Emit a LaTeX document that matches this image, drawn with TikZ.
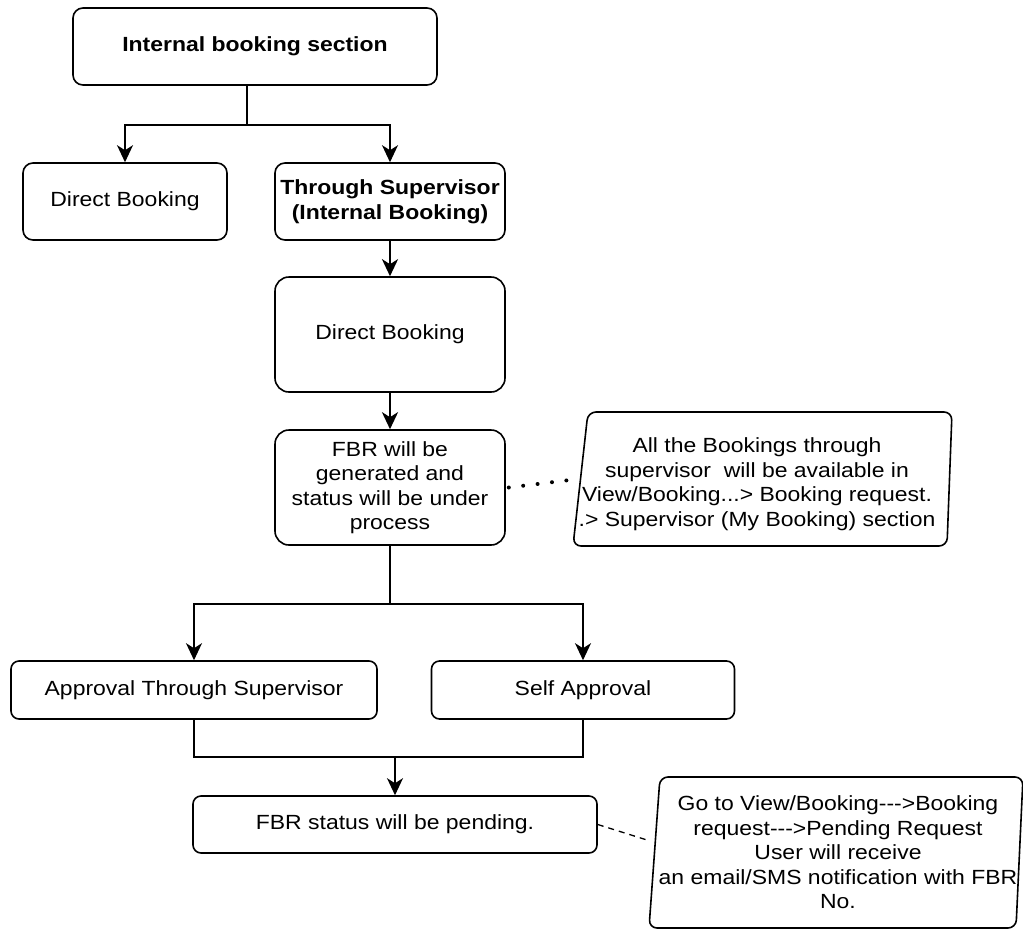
\documentclass[tikz,border=0pt]{standalone}
\usepackage{fontspec}
\setmainfont{Liberation Sans}[FakeStretch=1.12,Ligatures=TeXOff]
\usetikzlibrary{arrows.meta}

\begin{document}
\begin{tikzpicture}[x=1pt,y=-1pt,
  txt/.style={font=\fontsize{20.5}{24.5}\selectfont,align=center,inner sep=0pt},
  box/.style={txt,draw,line width=1.6pt,rounded corners=10pt,fill=white},
  notebox/.style={draw,line width=1.6pt,rounded corners=8pt,fill=white},
  link/.style={line width=1.3pt},
  arr/.style={link,-{Stealth[length=17pt,width=16pt,inset=5pt]}},
  thickarr/.style={line width=2.7pt,-{Stealth[length=17pt,width=16pt,inset=5pt]}},
  dotlink/.style={line width=4pt,line cap=round,dash pattern=on 0pt off 14.5pt},
  dashlink/.style={line width=1.3pt,dash pattern=on 6pt off 5pt}
]
\useasboundingbox (0,0) rectangle (1023,930);
\fill[white] (0,0) rectangle (1023,930);

% main flow boxes
\node[box,minimum width=364pt,minimum height=77pt] (top) at (255,46.5) {\textbf{Internal booking section}};
\node[box,minimum width=204pt,minimum height=77pt] (db1) at (125,201.5) {Direct Booking};
\node[box,minimum width=230pt,minimum height=77pt] (ts) at (390,201.5) {\textbf{Through Supervisor}\\\textbf{(Internal Booking)}};
\node[box,minimum width=230pt,minimum height=115pt,rounded corners=14pt] (db2) at (390,334.5) {Direct Booking};
\node[box,minimum width=230pt,minimum height=115pt,rounded corners=14pt] (fbr) at (390,487.5) {FBR will be\\generated and\\status will be under\\process};
\node[box,minimum width=366pt,minimum height=58pt,rounded corners=8pt] (aps) at (194,690) {Approval Through Supervisor};
\node[box,minimum width=303pt,minimum height=58pt,rounded corners=8pt] (sa) at (583,690) {Self Approval};
\node[box,minimum width=404pt,minimum height=57pt,rounded corners=8pt] (pend) at (395,824.5) {FBR status will be pending.};

% slanted note shapes
\draw[notebox] (588,412) -- (952,412) -- (947,546) -- (573,546) -- cycle;
\node[txt] (note1) at (757,484) {All the Bookings through\\supervisor\ \ will be available in\\View/Booking...> Booking request.\\.> Supervisor (My Booking) section};
\draw[notebox] (660,777) -- (1023,777) -- (1016,928) -- (649,928) -- cycle;
\node[txt] (note2) at (838,852.5) {Go to View/Booking--->Booking\\request--->Pending Request\\User will receive\\an email/SMS notification with FBR\\No.};

% junction points
\coordinate (j1) at (247,125);
\coordinate (j2) at (390,604);
\coordinate (j3) at (395,757);
\coordinate (n1in) at (570,480);
\coordinate (n2in) at (647,840);

% connectors
\draw[link] (j1 |- top.south) -- (j1);
\draw[arr] (j1) -| (db1.north);
\draw[arr] (j1) -| (ts.north);
\draw[thickarr] (ts.south) -- (db2.north);
\draw[thickarr] (db2.south) -- (fbr.north);
\draw[link] (fbr.south) -- (j2);
\draw[arr] (j2) -| (aps.north);
\draw[arr] (j2) -| (sa.north);
\draw[link] (aps.south) |- (j3);
\draw[link] (sa.south) |- (j3);
\draw[arr] (j3) -- (pend.north);
\draw[dotlink] ([xshift=3pt]fbr.east) -- (n1in);
\draw[dashlink] (pend.east) -- (n2in);
\end{tikzpicture}
\end{document}
